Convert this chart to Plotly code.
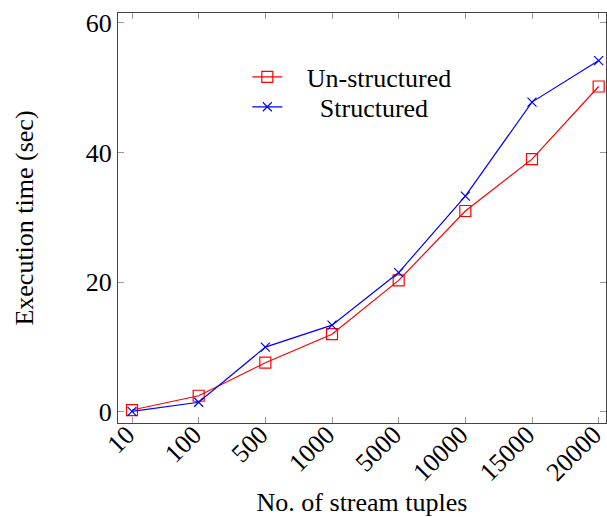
import plotly.graph_objects as go

categories = ["10", "100", "500", "1000", "5000", "10000", "15000", "20000"]
unstructured = [0.3, 2.5, 7.6, 12.0, 20.3, 31.0, 39.0, 50.2]
structured = [0.1, 1.5, 10.0, 13.4, 21.5, 33.3, 47.8, 54.2]
y_ticks = [0, 20, 40, 60]

FONT = "'Liberation Serif', 'Times New Roman', Times, serif"
FS = 26
idx = list(range(len(categories)))
NB = "\u00a0"

fig = go.Figure()
fig.add_trace(go.Scatter(
    x=idx, y=unstructured, name=NB * 3 + "Un-structured", mode="lines+markers",
    line=dict(color="#ff0000", width=1.2), legend="legend", showlegend=True,
    marker=dict(symbol="square-open", size=11, color="#ff0000", line=dict(width=1.2)),
))
fig.add_trace(go.Scatter(
    x=idx, y=structured, name=NB * 5 + "Structured", mode="lines+markers",
    line=dict(color="#0000ff", width=1.2), legend="legend2", showlegend=True,
    marker=dict(symbol="x-thin-open", size=9, color="#0000ff", line=dict(width=1.2, color="#0000ff")),
))

leg = dict(x=0.265, xanchor="left", yanchor="middle",
           bgcolor="rgba(0,0,0,0)", font=dict(size=FS, family=FONT))

fig.update_layout(
    width=607, height=517,
    showlegend=True,
    margin=dict(l=118, r=1, t=13, b=94),
    paper_bgcolor="white", plot_bgcolor="white",
    font=dict(family=FONT, size=FS, color="black"),
    legend=dict(leg, y=0.844),
    legend2=dict(leg, y=0.771),
    xaxis=dict(
        range=[-0.21, 7.11], tickmode="array", tickvals=idx, ticktext=categories,
        tickangle=-45, ticks="inside", ticklen=6, tickcolor="#999999",
        showline=True, linecolor="#444444", linewidth=1.2, mirror="ticks",
        showgrid=False, zeroline=False, ticklabeloverflow="allow", automargin=False,
        ticklabelstandoff=-15, ticklabelshift=-5,
        title=dict(text="No. of stream tuples", font=dict(size=FS, family=FONT), standoff=11),
        tickfont=dict(size=FS, family=FONT),
    ),
    yaxis=dict(
        range=[-1.7, 61.54], tickmode="array", tickvals=y_ticks,
        ticks="inside", ticklen=6, tickcolor="#999999",
        showline=True, linecolor="#444444", linewidth=1.2, mirror="ticks",
        showgrid=False, zeroline=False, automargin=False,
        title=dict(text="Execution time (sec)", font=dict(size=FS, family=FONT), standoff=44),
        tickfont=dict(size=FS, family=FONT),
    ),
)

fig.write_html("out.html")
